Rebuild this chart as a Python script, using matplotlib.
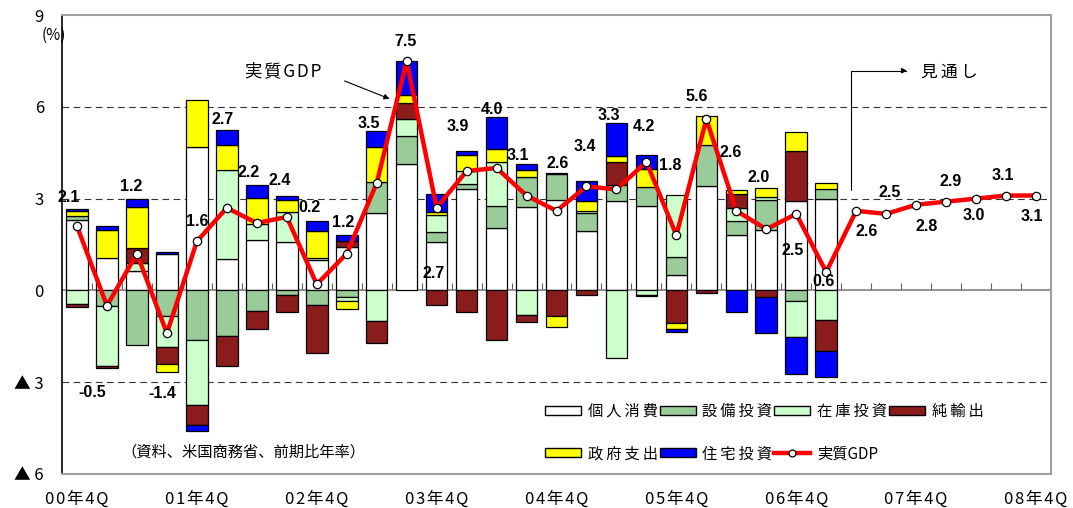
import numpy as np
import matplotlib
matplotlib.use("Agg")
from matplotlib import pyplot as plt
from matplotlib.patches import Patch
from matplotlib.lines import Line2D

plt.rcParams['font.family'] = ['Noto Sans CJK JP', 'DejaVu Sans']

# contributions to real GDP growth (annualised, % pts), 00Q4 .. 07Q1
consumption = [2.3, 1.06, 0.65, 1.19, 4.69, 1.03, 1.66, 1.58, 0.98, 1.42, 2.53, 4.14, 1.57,
               3.32, 2.05, 2.73, 2.97, 1.93, 2.91, 2.77, 0.51, 3.4, 1.82, 1.98, 2.91, 3.0]
equipment = [0.12, -0.5, -1.78, -0.83, -1.62, -1.48, -0.67, -0.16, -0.49, -0.2, 1.0, 0.92, 0.33,
             0.16, 0.72, 0.98, 0.82, 0.6, 0.52, 0.6, 0.57, 1.34, 0.44, 0.98, -0.36, 0.32]
inventory = [-0.45, -1.98, 0.24, -1.01, -2.14, 2.92, 0.51, 0.98, 0.08, -0.15, -1.01, 0.55, 0.55,
             0.41, 1.42, -0.8, 0.0, 0.08, -2.21, -0.14, 2.03, 0.0, 0.44, 0.08, -1.15, -0.96]
net_exports = [-0.08, -0.07, 0.49, -0.57, -0.65, -1.0, -0.59, -0.55, -1.56, 0.19, -0.71, 0.5, -0.47,
               -0.71, -1.62, -0.22, -0.83, -0.14, 0.76, -0.03, -1.07, -0.07, 0.44, -0.2, 1.64, -1.01]
government = [0.17, 0.9, 1.34, -0.26, 1.52, 0.8, 0.85, 0.39, 0.87, -0.27, 1.16, 0.27, 0.11,
              0.52, 0.44, 0.23, -0.38, 0.31, 0.2, 0.61, -0.2, 0.95, 0.14, 0.31, 0.63, 0.2]
housing = [0.06, 0.13, 0.27, 0.08, -0.2, 0.48, 0.44, 0.13, 0.33, 0.19, 0.53, 1.12, 0.58,
           0.16, 1.04, 0.2, 0.04, 0.64, 1.08, 0.46, -0.08, 0.0, -0.71, -1.18, -1.22, -0.87]

# real GDP, 00Q4 .. 08Q4 (07Q2 onward = outlook)
gdp = [2.1, -0.5, 1.2, -1.4, 1.6, 2.7, 2.2, 2.4, 0.2, 1.2, 3.5, 7.5, 2.7, 3.9, 4.0, 3.1, 2.6,
       3.4, 3.3, 4.2, 1.8, 5.6, 2.6, 2.0, 2.5, 0.6, 2.6, 2.5, 2.8, 2.9, 3.0, 3.1, 3.1]
gdp_labels = ['2.1', '-0.5', '1.2', '-1.4', '1.6', '2.7', '2.2', '2.4', '0.2', '1.2', '3.5', '7.5',
              '2.7', '3.9', '4.0', '3.1', '2.6', '3.4', '3.3', '4.2', '1.8', '5.6', '2.6', '2.0',
              '2.5', '0.6', '2.6', '2.5', '2.8', '2.9', '3.0', '3.1', '3.1']

x_labels = ['00年4Q', '01年4Q', '02年4Q', '03年4Q', '04年4Q', '05年4Q', '06年4Q', '07年4Q', '08年4Q']
y_labels = ['▲ 6', '▲ 3', '0', '3', '6', '9']

series = [
    ('個人消費', consumption, '#FFFFFF'),
    ('設備投資', equipment, '#99CC99'),
    ('在庫投資', inventory, '#CCFFCC'),
    ('純輸出', net_exports, '#8B1C1C'),
    ('政府支出', government, '#FFFF00'),
    ('住宅投資', housing, '#0000FF'),
]

# label offsets from each GDP point, in pixels (dx, dy up)
label_off = [(-8, 29), (-15, -87), (-6, 67), (-5, -60), (0, 20), (-4, 88), (-8, 51), (-7, 36),
             (-7, 77), (-4, 31), (-8, 60), (-1, 19), (-3, -66), (-9, 45), (-5, 58), (-9, 40),
             (1, 47), (-2, 40), (-8, 74), (-2, 35), (-6, 70), (-10, 23), (-6, 58), (-8, 52),
             (-4, -37), (-3, -9), (10, -21), (4, 21), (10, -22), (5, 20), (-2, -17), (-3, 20),
             (-4, -21)]


def spaced(s, sp='\u2009'):
    # the original uses a wide-set font; thin spaces fake the tracking
    return sp.join(s)


W, H = 1073, 508
fig = plt.figure(figsize=(W / 100, H / 100), dpi=100)
ax = fig.add_axes([62 / W, 34 / H, 989 / W, 459 / H])

n_bar = len(consumption)
xb = np.arange(n_bar)
pos_base = np.zeros(n_bar)
neg_base = np.zeros(n_bar)
for name, vals, col in series:
    v = np.array(vals)
    for i in range(n_bar):
        if v[i] == 0:
            continue
        if v[i] > 0:
            ax.bar(xb[i], v[i], 0.72, bottom=pos_base[i], color=col, edgecolor='black', linewidth=0.9, zorder=2)
            pos_base[i] += v[i]
        else:
            ax.bar(xb[i], v[i], 0.72, bottom=neg_base[i], color=col, edgecolor='black', linewidth=0.9, zorder=2)
            neg_base[i] += v[i]

xg = np.arange(len(gdp))
ax.plot(xg, gdp, color='#FF0000', lw=3.2, marker='o', ms=6, mfc='white', mec='black', mew=0.9, zorder=4)

for i, (v, t) in enumerate(zip(gdp, gdp_labels)):
    dx, dy = label_off[i]
    ax.annotate(t, (xg[i], v), xytext=(dx * 0.72, dy * 0.72), textcoords='offset points',
                ha='center', va='center', fontsize=11.5, fontweight='bold',
                family=['Liberation Sans', 'DejaVu Sans'], zorder=5)

# grid lines
for yv in (6, 3, -3):
    ax.axhline(yv, color='#333333', lw=0.8, dashes=(6, 4), zorder=1)
ax.axhline(0, color='#808080', lw=1.2, zorder=1.5)

ax.set_xlim(-0.5, len(gdp) - 0.5)
ax.set_ylim(-6, 9)
ax.set_xticks(np.arange(0, len(gdp), 4))
ax.set_xticklabels([spaced(s, '\u200a') for s in x_labels], fontsize=12)
ax.set_yticks([-6, -3, 0, 3, 6, 9])
ax.set_yticklabels(y_labels, fontsize=12)
ax.tick_params(axis='both', length=0)
ax.tick_params(axis='x', pad=12)
ax.tick_params(axis='y', pad=13)

# small ticks on the zero line at quarter boundaries
sec = ax.secondary_xaxis(0.4)
sec.set_xticks(np.arange(0.5, len(gdp) - 1, 1))
sec.tick_params(axis='x', direction='in', length=5, width=0.8, color='#606060', labelbottom=False)
sec.spines['bottom'].set_visible(False)

for s in ('top', 'right', 'bottom'):
    ax.spines[s].set_color('#A0A0A0')
    ax.spines[s].set_linewidth(1.5)
ax.spines['left'].set_color('black')
ax.spines['left'].set_linewidth(1.2)

fig.text(42 / W, 1 - 35 / H, '(%)', fontsize=11, va='center', ha='left')

ax.annotate(spaced('実質GDP', '\u200a'), xy=(10.43, 6.26), xytext=(6.87, 7.15), ha='center',
            va='center', fontsize=12.5,
            arrowprops=dict(arrowstyle='-|>', color='black', lw=0.8, mutation_scale=8,
                            relpos=(1, 0.5), shrinkA=16, shrinkB=0), zorder=5)

ax.annotate('', xy=(27.7, 7.18), xytext=(25.83, 3.29),
            arrowprops=dict(arrowstyle='-|>', color='black', lw=0.8, mutation_scale=8,
                            connectionstyle='angle,angleA=90,angleB=0,rad=0', shrinkA=0, shrinkB=0))
ax.text(28.17, 7.12, spaced('見通し'), fontsize=12, ha='left', va='center')

fig.text(121 / W, 1 - 452 / H, '（資料、米国商務省、前期比年率）', fontsize=11, ha='left', va='center')

# legend: two rows
h = {name: Patch(facecolor=col, edgecolor='black', linewidth=1.0) for name, _, col in series}
gdp_h = Line2D([], [], color='#FF0000', lw=3.2, marker='o', ms=5, mfc='white', mec='black', mew=0.9)
order = [('個人消費', h['個人消費']), ('政府支出', h['政府支出']), ('設備投資', h['設備投資']),
         ('住宅投資', h['住宅投資']), ('在庫投資', h['在庫投資']), ('実質GDP', gdp_h),
         ('純輸出', h['純輸出'])]
leg_text = [o[0] if o[0] == '実質GDP' else spaced(o[0]) for o in order]
fig.legend([o[1] for o in order], leg_text, ncol=4, loc='upper left',
           bbox_to_anchor=(545 / W, 1 - 403 / H), frameon=False, fontsize=11,
           handlelength=2.35, handleheight=0.55, handletextpad=0.45, columnspacing=0.12,
           labelspacing=1.65, borderpad=0, borderaxespad=0)

fig.savefig('out.png', dpi=100)
